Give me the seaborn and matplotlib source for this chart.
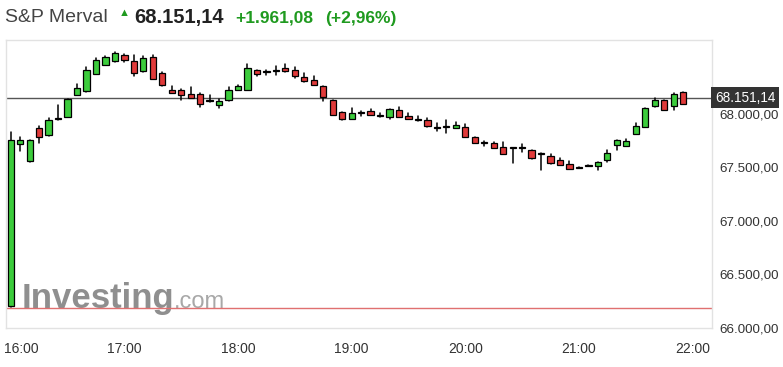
import matplotlib
matplotlib.use("Agg")
import matplotlib.pyplot as plt
import matplotlib.transforms as mtransforms
import numpy as np
import pandas as pd
import seaborn as sns

# ---------------- data ----------------
title_name = "S&P Merval"
last_price = 68151.14
change_abs = "+1.961,08"
change_pct = "(+2,96%)"
prev_close = 66190.06

time_labels = ["16:00", "17:00", "18:00", "19:00", "20:00", "21:00", "22:00"]
time_label_idx = [0, 12, 24, 36, 48, 60, 72]   # 5-minute candle index of each hour
y_ticks = [66000, 66500, 67000, 67500, 68000]

opens = [66204, 67720, 67561, 67870, 67805, 67960, 67973, 68176, 68211, 68376,
         68457, 68492, 68554, 68492, 68398, 68529, 68382, 68226, 68226, 68188,
         68188, 68128, 68080, 68132, 68223, 68223, 68408, 68391, 68408, 68426,
         68410, 68342, 68317, 68258, 68129, 68014, 67952, 68010, 68024, 67984,
         67967, 68039, 67982, 67944, 67942, 67876, 67881, 67870, 67874, 67780,
         67729, 67724, 67694, 67682, 67689, 67661, 67631, 67602, 67568, 67530,
         67501, 67518, 67509, 67570, 67711, 67702, 67811, 67879, 68070, 68127,
         68070, 68202]
highs = [67827, 67780, 67760, 67883, 67958, 68085, 68142, 68276, 68438, 68520,
         68541, 68579, 68560, 68554, 68539, 68554, 68389, 68258, 68232, 68248,
         68192, 68176, 68139, 68254, 68268, 68467, 68410, 68413, 68451, 68467,
         68436, 68379, 68357, 68260, 68131, 68020, 68055, 68029, 68045, 68008,
         68047, 68061, 68008, 67977, 67958, 67911, 67945, 67926, 67905, 67782,
         67750, 67741, 67733, 67684, 67718, 67665, 67633, 67629, 67584, 67556,
         67503, 67520, 67549, 67664, 67758, 67764, 67911, 68058, 68148, 68130,
         68191, 68205]
lows = [66200, 67649, 67552, 67727, 67795, 67939, 67970, 68173, 68205, 68373,
        68454, 68489, 68488, 68351, 68395, 68325, 68258, 68195, 68130, 68148,
        68067, 68108, 68055, 68120, 68220, 68220, 68351, 68364, 68366, 68395,
        68333, 68302, 68268, 68123, 67985, 67945, 67950, 67982, 67987, 67973,
        67952, 67970, 67950, 67938, 67880, 67842, 67820, 67868, 67785, 67730,
        67702, 67678, 67622, 67540, 67647, 67583, 67479, 67528, 67519, 67481,
        67495, 67512, 67474, 67552, 67664, 67700, 67808, 67876, 68067, 68033,
        68036, 68092]
closes = [67755, 67755, 67755, 67786, 67942, 67956, 68139, 68239, 68413, 68507,
          68529, 68569, 68501, 68385, 68520, 68329, 68267, 68198, 68176, 68151,
          68095, 68124, 68120, 68226, 68263, 68426, 68373, 68389, 68405, 68398,
          68351, 68305, 68270, 68160, 67989, 67952, 68005, 68006, 67989, 67980,
          68045, 67973, 67952, 67940, 67883, 67872, 67877, 67900, 67788, 67732,
          67725, 67680, 67624, 67678, 67685, 67586, 67627, 67540, 67521, 67483,
          67497, 67514, 67546, 67630, 67755, 67748, 67883, 68055, 68127, 68036,
          68188, 68095]

# ---------------- style ----------------
sns.set_theme(style="white")
plt.rcParams["font.family"] = ["Liberation Sans", "DejaVu Sans"]

GREEN = "#3ccc3c"
RED = "#e03a3a"
TXT = "#333333"
UPGREEN = "#1f9a1f"

W, H = 783, 367
fig = plt.figure(figsize=(W / 100, H / 100), dpi=100)
ax_l, ax_r, ax_t, ax_b = 6, 712, 40, 328
ax = fig.add_axes([ax_l / W, 1 - ax_b / H, (ax_r - ax_l) / W, (ax_b - ax_t) / H])

n = len(opens)
idx = np.arange(n)
df = pd.DataFrame({"idx": idx, "open": opens, "high": highs, "low": lows, "close": closes})

# watermark (behind everything)
ax.text(0.0225, 0.07, "Investing", transform=ax.transAxes, fontsize=25, fontweight="bold",
        color="#8f8f8f", ha="left", va="baseline", zorder=0)
ax.text(0.238, 0.07, ".com", transform=ax.transAxes, fontsize=17,
        color="#a8a8a8", ha="left", va="baseline", zorder=0)

# reference lines
ax.axhline(prev_close, color="#e07070", lw=1.0, zorder=1)
ax.axhline(last_price, color="#555555", lw=1.0, zorder=1)

# wicks via seaborn (one unit per candle)
wick = pd.concat([
    df[["idx", "low"]].rename(columns={"low": "price"}),
    df[["idx", "high"]].rename(columns={"high": "price"}),
]).reset_index(drop=True)
sns.lineplot(data=wick, x="idx", y="price", units="idx", estimator=None,
             color="black", lw=1.1, ax=ax, legend=False, sort=False, zorder=2)

# bodies
body_bottom = np.minimum(df["open"], df["close"])
body_h = np.maximum(np.abs(df["close"] - df["open"]), 8)
colors = [GREEN if c > o else RED for o, c in zip(opens, closes)]
ax.bar(df["idx"], body_h, bottom=body_bottom, width=0.66, color=colors,
       edgecolor="black", linewidth=0.9, zorder=3)

# axes setup
ax.set_xlim(-0.5, 74.05)
ax.set_ylim(66000, 68690)
ax.set_xlabel("")
ax.set_ylabel("")
ax.set_xticks(time_label_idx)
ax.set_xticklabels(time_labels)
ax.yaxis.tick_right()
ax.set_yticks(y_ticks)


def fmt(v):
    s = f"{v:,.2f}"
    return s.replace(",", "X").replace(".", ",").replace("X", ".")


ax.set_yticklabels([fmt(v) for v in y_ticks])
ax.tick_params(axis="y", length=0, pad=5, labelsize=9.6, labelcolor=TXT)
ax.tick_params(axis="x", length=0, pad=10, labelsize=10, labelcolor=TXT)
lbls = ax.get_xticklabels()
lbls[0].set_ha("left")
lbls[0].set_transform(lbls[0].get_transform() + mtransforms.ScaledTranslation(-5 / 72, 0, fig.dpi_scale_trans))
for s in ax.spines.values():
    s.set_color("#e2e2e2")
    s.set_linewidth(1.0)
ax.grid(False)

# last price tag
tr = mtransforms.blended_transform_factory(ax.transAxes, ax.transData)
ax.text(1.004, last_price, fmt(last_price), transform=tr, ha="left", va="center",
        fontsize=9.8, color="white", clip_on=False, zorder=5,
        bbox=dict(boxstyle="square,pad=0.25", fc="#333333", ec="none"))

# header
ty = 1 - 18 / H
fig.text(5 / W, ty, title_name, fontsize=14, color="#444444", ha="left", va="center")
fig.text(124.5 / W, 1 - 12.5 / H, "▲", fontsize=8, color=UPGREEN, ha="center", va="center")
fig.text(134 / W, ty, fmt(last_price), fontsize=14.5, fontweight="bold", color="#222222", ha="left", va="center")
fig.text(235 / W, ty, change_abs, fontsize=12.5, fontweight="bold", color=UPGREEN, ha="left", va="center")
fig.text(325 / W, ty, change_pct, fontsize=12.5, fontweight="bold", color=UPGREEN, ha="left", va="center")

fig.savefig("out.png", dpi=100, facecolor="white")
